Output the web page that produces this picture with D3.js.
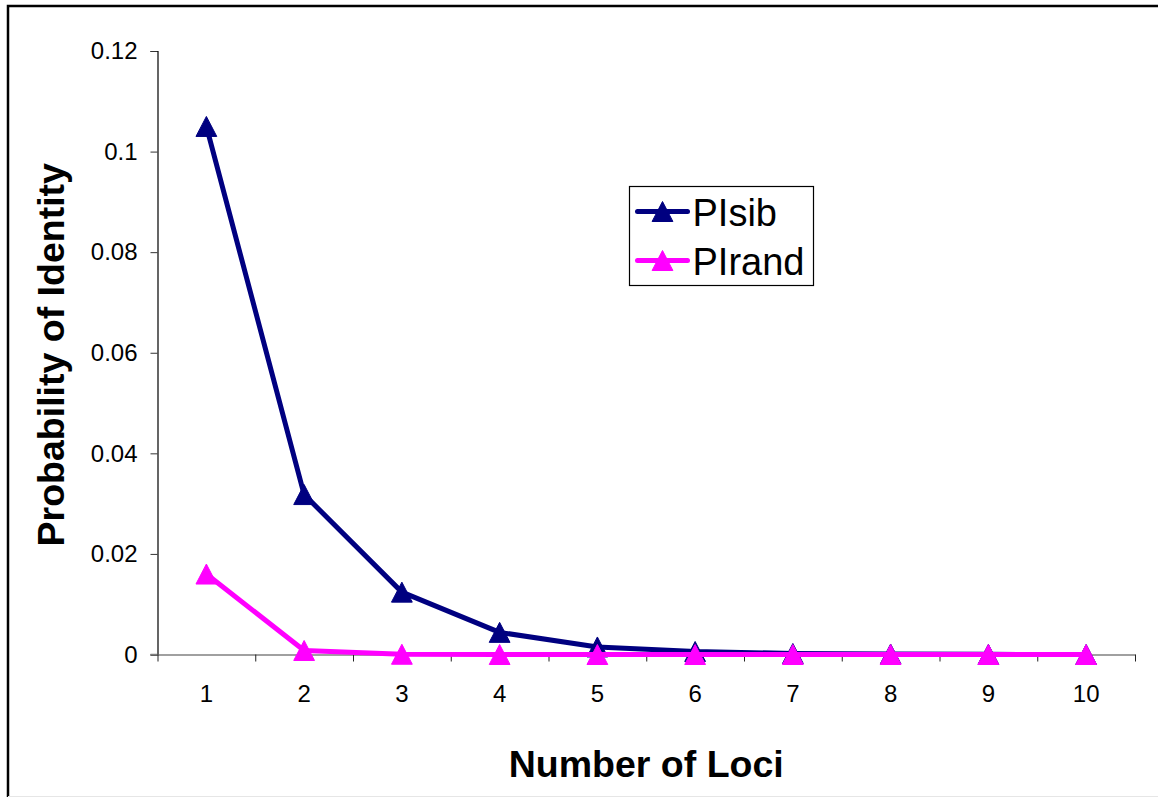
<!DOCTYPE html>
<html>
<head>
<meta charset="utf-8">
<script src="https://cdn.jsdelivr.net/npm/d3@7"></script>
<style>
  html, body { margin: 0; padding: 0; background: #fff; }
  svg { display: block; }
  text { font-family: "Liberation Sans", Arial, sans-serif; fill: #000; }
</style>
</head>
<body>
<svg id="chart" width="1158" height="797"></svg>
<script>
// Number of loci on the x axis
const categories = ["1", "2", "3", "4", "5", "6", "7", "8", "9", "10"];
// Probability of identity among siblings
const piSib = [0.105, 0.0318, 0.0124, 0.0044, 0.0015, 0.0006, 0.0002, 0.0001, 0.00003, 0.00001];
// Probability of identity among unrelated individuals
const piRand = [0.016, 0.0008, 0.00005, 0.000003, 0, 0, 0, 0, 0, 0];
const yTicks = [0, 0.02, 0.04, 0.06, 0.08, 0.1, 0.12];
const yTickLabels = ["0", "0.02", "0.04", "0.06", "0.08", "0.1", "0.12"];
const seriesNames = ["PIsib", "PIrand"];
const seriesColors = ["#000080", "#FF00FF"];

const svg = d3.select("#chart");
const plot = { left: 157.5, right: 1135, top: 51, bottom: 654.5 };

// outer frame (runs off the right and bottom edges)
svg.append("rect")
  .attr("x", 8).attr("y", 6)
  .attr("width", 1300).attr("height", 900)
  .attr("fill", "#fff").attr("stroke", "#000").attr("stroke-width", 2.5);
svg.append("line")
  .attr("x1", 8).attr("x2", 1158).attr("y1", 796.5).attr("y2", 796.5)
  .attr("stroke", "#e6e6e6").attr("stroke-width", 1);

const x = d3.scaleBand().domain(categories).range([plot.left, plot.right]).padding(0);
const xEdge = d3.scaleLinear().domain([0, categories.length]).range([plot.left, plot.right]);
const y = d3.scaleLinear().domain([0, 0.12]).range([plot.bottom, plot.top]);

// y axis
const yAxis = svg.append("g")
  .attr("transform", `translate(${plot.left},0)`)
  .call(d3.axisLeft(y).tickValues(yTicks)
    .tickFormat((d, i) => yTickLabels[i])
    .tickSize(7).tickPadding(13));
yAxis.select(".domain").attr("stroke", "#000").attr("stroke-width", 1.2);
yAxis.selectAll(".tick line").attr("stroke", "#333");
yAxis.selectAll(".tick text")
  .style("font-size", "24px").style("font-family", "Liberation Sans, Arial, sans-serif");

// x axis: tick marks between categories
const xTickAxis = svg.append("g")
  .attr("transform", `translate(0,${plot.bottom})`)
  .call(d3.axisBottom(xEdge).tickValues(d3.range(0, categories.length + 1))
    .tickSize(7).tickSizeOuter(0).tickFormat(""));
xTickAxis.select(".domain").attr("stroke", "#808080").attr("stroke-width", 1.5);
xTickAxis.selectAll(".tick line").attr("stroke", "#222");

// x axis labels centred under each category
const xLabelAxis = svg.append("g")
  .attr("transform", `translate(0,${plot.bottom})`)
  .call(d3.axisBottom(x).tickSize(0).tickPadding(30));
xLabelAxis.select(".domain").remove();
xLabelAxis.selectAll(".tick text")
  .style("font-size", "24px").style("font-family", "Liberation Sans, Arial, sans-serif");

// horizontal zero line extends left to meet the y tick
svg.append("line")
  .attr("x1", plot.left - 7).attr("x2", plot.left)
  .attr("y1", y(0)).attr("y2", y(0))
  .attr("stroke", "#808080").attr("stroke-width", 1.5);

// axis titles
svg.append("text")
  .attr("x", (plot.left + plot.right) / 2).attr("y", 777)
  .attr("text-anchor", "middle")
  .style("font-size", "37.5px").style("font-weight", "bold")
  .text("Number of Loci");
svg.append("text")
  .attr("transform", `translate(64,${(plot.top + plot.bottom) / 2 + 2}) rotate(-90)`)
  .attr("text-anchor", "middle")
  .style("font-size", "37.5px").style("font-weight", "bold")
  .text("Probability of Identity");

// triangle marker centred on its bounding box
const triangle = {
  draw(ctx, size) {
    const h = Math.sqrt(size);
    const w = h * 1.04;
    ctx.moveTo(0, -h / 2);
    ctx.lineTo(w / 2, h / 2);
    ctx.lineTo(-w / 2, h / 2);
    ctx.closePath();
  }
};
const marker = d3.symbol().type(triangle).size(20 * 20);

const cx = c => x(c) + x.bandwidth() / 2;
const line = d3.line().x((d, i) => cx(categories[i])).y(d => y(d));

[piSib, piRand].forEach((vals, s) => {
  const g = svg.append("g");
  g.append("path")
    .datum(vals)
    .attr("d", line)
    .attr("fill", "none")
    .attr("stroke", seriesColors[s])
    .attr("stroke-width", 5)
    .attr("stroke-linejoin", "round");
  g.selectAll("path.m")
    .data(vals)
    .join("path")
    .attr("class", "m")
    .attr("d", marker)
    .attr("transform", (d, i) => `translate(${cx(categories[i])},${y(d)})`)
    .attr("fill", seriesColors[s])
    .attr("stroke", seriesColors[s])
    .attr("stroke-width", 1);
});

// legend
const legend = svg.append("g").attr("transform", "translate(629.5,186.5)");
legend.append("rect")
  .attr("width", 184).attr("height", 99)
  .attr("fill", "#fff").attr("stroke", "#000").attr("stroke-width", 1.2);
seriesNames.forEach((name, s) => {
  const row = legend.append("g").attr("transform", `translate(0,${25 + s * 49})`);
  row.append("line")
    .attr("x1", 8).attr("x2", 58)
    .attr("stroke", seriesColors[s]).attr("stroke-width", 5)
    .attr("stroke-linecap", "round");
  row.append("path")
    .attr("d", marker)
    .attr("transform", "translate(33,0)")
    .attr("fill", seriesColors[s]).attr("stroke", seriesColors[s]);
  row.append("text")
    .attr("x", 63).attr("y", 14)
    .style("font-size", "38px")
    .text(name);
});
</script>
</body>
</html>
